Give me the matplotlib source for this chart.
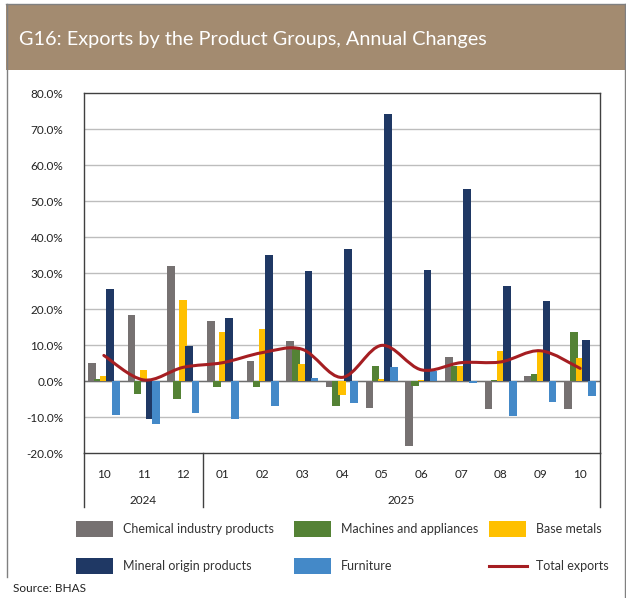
import numpy as np
import matplotlib
matplotlib.use("Agg")
import matplotlib.pyplot as plt
from matplotlib.path import Path
from matplotlib.patches import PathPatch, Rectangle
from matplotlib.lines import Line2D

plt.rcParams['font.family'] = ['Lato', 'DejaVu Sans']

# DADOS (variacao anual, %)
meses = ['10', '11', '12', '01', '02', '03', '04', '05', '06', '07', '08', '09', '10']
anos = ['2024', '2025']
n_2024 = 3

quimicos = [5.1, 18.4, 31.9, 16.6, 5.5, 11.0, -1.6, -7.5, -18.1, 6.8, -7.9, 1.5, -7.8]
maquinas = [0.5, -3.7, -5.0, -1.8, -1.7, 9.5, -6.9, 4.2, -1.5, 4.3, 0.4, 1.9, 13.5]
metais = [1.4, 3.0, 22.4, 13.6, 14.5, 4.7, -4.0, 0.5, 0.4, 4.3, 8.4, 8.1, 6.3]
minerais = [25.6, -10.6, 9.7, 17.6, 35.0, 30.6, 36.6, 74.1, 30.9, 53.2, 26.3, 22.3, 11.5]
moveis = [-9.4, -12.0, -9.0, -10.5, -6.9, 0.7, -6.0, 3.9, 2.8, -0.6, -9.7, -5.7, -4.3]
total = [7.1, 0.3, 3.8, 5.1, 7.9, 8.8, 1.0, 9.9, 3.1, 5.1, 5.3, 8.4, 3.5]

series = [
    ('Chemical industry products', quimicos, '#767171'),
    ('Machines and appliances', maquinas, '#548235'),
    ('Base metals', metais, '#FFC000'),
    ('Mineral origin products', minerais, '#1F3864'),
    ('Furniture', moveis, '#4489C8'),
]
cor_total = '#A51E22'

W, H = 626, 598
fig = plt.figure(figsize=(W / 100, H / 100), dpi=100)

def fx(px):
    return px / W

def fy(py):
    return 1 - py / H

# moldura e cabecalho
fig.add_artist(Rectangle((fx(6), fy(70)), fx(620), 66 / H, transform=fig.transFigure,
                         facecolor='#A38B70', edgecolor='none'))
fig.add_artist(Line2D([fx(6), fx(625)], [fy(4), fy(4)], color='#808080', lw=1))
fig.add_artist(Line2D([fx(6.5), fx(6.5)], [fy(4), fy(577)], color='#808080', lw=1))
fig.add_artist(Line2D([fx(624.5), fx(624.5)], [fy(4), fy(598)], color='#808080', lw=1))
fig.text(fx(19), fy(40), 'G16: Exports by the Product Groups, Annual Changes',
         color='white', fontsize=14.3, va='center', ha='left')

ax = fig.add_axes([fx(84), fy(453), 516 / W, 360 / H])
x = np.arange(len(meses))
larg = 0.194
passo = 0.153
for i, (nome, vals, cor) in enumerate(series):
    ax.bar(x + (i - 2) * passo, vals, width=larg, color=cor, zorder=3 + i)

# linha suavizada (estilo excel) com curvas bezier
pts = np.column_stack([x, total])
verts = [tuple(pts[0])]
codes = [Path.MOVETO]
for i in range(len(pts) - 1):
    p0 = pts[max(i - 1, 0)]
    p1 = pts[i]
    p2 = pts[i + 1]
    p3 = pts[min(i + 2, len(pts) - 1)]
    c1 = p1 + (p2 - p0) / 6
    c2 = p2 - (p3 - p1) / 6
    verts += [tuple(c1), tuple(c2), tuple(p2)]
    codes += [Path.CURVE4] * 3
ax.add_patch(PathPatch(Path(verts, codes), facecolor='none', edgecolor=cor_total,
                       lw=2.2, zorder=10, capstyle='round'))

ax.set_xlim(-0.5, len(meses) - 0.5)
ax.set_ylim(-20, 80)
ax.set_yticks(np.arange(-20, 81, 10))
ax.set_yticklabels([f'{v:.1f}%' for v in np.arange(-20, 81, 10)], fontsize=8.5, color='#222222')
ax.tick_params(axis='y', length=0, pad=15)
for v in np.arange(-10, 80, 10):
    ax.axhline(v, color='#BDBDBD', lw=1, zorder=1)
ax.axhline(0, color='#6E6E6E', lw=1, zorder=2)
ax.set_xticks([])
for s in ax.spines.values():
    s.set_color('#404040')
    s.set_linewidth(1)

# eixo de categorias em dois niveis
for i, m in enumerate(meses):
    fig.text(fx(84 + (i + 0.5) * 516 / len(meses)), fy(475), m, ha='center', va='center',
             fontsize=8.5, color='#222222')
for xl in [0, n_2024, len(meses)]:
    xp = fx(84 + xl * 516 / len(meses))
    fig.add_artist(Line2D([xp, xp], [fy(453), fy(507)], color='#404040', lw=1))
fig.text(fx(84 + n_2024 / 2 * 516 / len(meses)), fy(500), anos[0], ha='center', va='center',
         fontsize=8.5, color='#222222')
fig.text(fx(84 + (n_2024 + len(meses)) / 2 * 516 / len(meses)), fy(500), anos[1], ha='center',
         va='center', fontsize=8.5, color='#222222')

# legenda
col_x = [76, 294, 489]
lin_y = [529, 566]
itens = [(nome, cor, 'patch') for nome, _, cor in series] + [('Total exports', cor_total, 'line')]
for k, (nome, cor, tipo) in enumerate(itens):
    cx = col_x[k % 3]
    cy = lin_y[k // 3]
    if tipo == 'patch':
        fig.add_artist(Rectangle((fx(cx), fy(cy + 8)), 37 / W, 16 / H, transform=fig.transFigure,
                                 facecolor=cor, edgecolor='none'))
    else:
        fig.add_artist(Line2D([fx(cx), fx(cx + 38)], [fy(cy), fy(cy)], color=cor, lw=2.2))
    fig.text(fx(cx + 47), fy(cy), nome, ha='left', va='center', fontsize=9, color='#333333')

fig.text(fx(13), fy(588), 'Source: BHAS', ha='left', va='center', fontsize=8.5, color='#222222')

fig.savefig('out.png', dpi=100)
